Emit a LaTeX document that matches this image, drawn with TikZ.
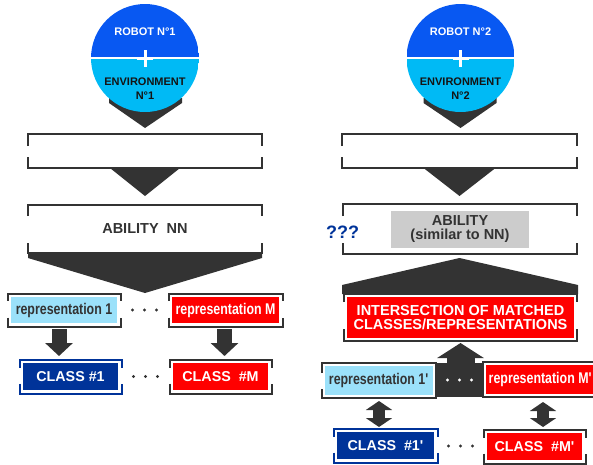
\documentclass[tikz,border=0pt]{standalone}
\usepackage{fontspec}
\setmainfont{Liberation Sans}
\newfontfamily\condfont[FakeStretch=0.80]{Liberation Sans}
\usetikzlibrary{calc,arrows.meta}

\definecolor{ink}{RGB}{51,51,51}
\definecolor{robotblue}{RGB}{8,88,242}
\definecolor{envcyan}{RGB}{0,186,245}
\definecolor{lightblue}{RGB}{155,225,250}
\definecolor{navy}{RGB}{0,51,153}
\definecolor{abgray}{RGB}{204,204,204}
\definecolor{hotred}{RGB}{255,0,0}
\definecolor{envtext}{RGB}{20,20,20}

\tikzset{
  box/.style={inner sep=0pt, outer sep=0pt, align=center,
    font=\bfseries\fontsize{14.5}{14}\selectfont},
  repbox/.style={box, minimum height=26pt,
    font=\condfont\bfseries\fontsize{15.5}{15}\selectfont},
  repboxp/.style={repbox, minimum height=29pt},
  clsbox/.style={box, minimum height=27pt, text=white,
    font=\bfseries\fontsize{14.3}{14}\selectfont},
  bracketline/.style={line width=2pt, line cap=butt, line join=miter},
  blockarrow/.style={draw=ink, line width=15pt,
    -{Triangle[width=27pt,length=13pt]}},
  dblarrow/.style={draw=ink, line width=12pt,
    {Triangle[width=26pt,length=9pt]}-{Triangle[width=26pt,length=9pt]}},
  disc/.style={circle, minimum size=108pt, inner sep=0pt, path picture={
    \fill[robotblue] (path picture bounding box.north west) rectangle (path picture bounding box.east);
    \fill[envcyan] (path picture bounding box.west) rectangle (path picture bounding box.south east);
    \draw[white, line width=1.2pt] (path picture bounding box.west) -- (path picture bounding box.east);
    \draw[white, line width=3pt] ($(path picture bounding box.center)+(-8pt,0pt)$) -- ++(16pt,0pt);
    \draw[white, line width=3pt] ($(path picture bounding box.center)+(0pt,8pt)$) -- ++(0pt,-17pt);
  }},
  disctext/.style={inner sep=0pt, align=center,
    font=\bfseries\fontsize{11}{14}\selectfont},
  pointer/.style={fill=ink},
}

% open-sided frame: a top and a bottom bracket around a node
% #1 node, #2 gap to the node, #3 top leg, #4 bottom leg, #5 colour
\newcommand\bracketize[5]{%
  \draw[bracketline,#5]
    ([shift={(-#2,#2-#3)}]#1.north west) -- ([shift={(-#2,#2)}]#1.north west)
    -- ([shift={(#2,#2)}]#1.north east) -- ([shift={(#2,#2-#3)}]#1.north east);
  \draw[bracketline,#5]
    ([shift={(-#2,-#2+#4)}]#1.south west) -- ([shift={(-#2,-#2)}]#1.south west)
    -- ([shift={(#2,-#2)}]#1.south east) -- ([shift={(#2,-#2+#4)}]#1.south east);
}
% three dots centred on a coordinate
\newcommand\threedots[2]{%
  \foreach \dx in {-12,0,12} \fill[#2] ($(#1)+(\dx,0)$) circle (1.6);
}

\begin{document}
\begin{tikzpicture}[x=1pt,y=1pt]
\useasboundingbox (0,0) rectangle (593,-464);
\clip (0,0) rectangle (593,-464);

% ================= left pipeline =================
\node[box, minimum width=234pt, minimum height=34pt] (L1) at (145,-151) {};
\node[box, minimum width=234pt, minimum height=48pt, text=ink] (L2) at (145,-229)
  {\raisebox{-2pt}{ABILITY\ \ NN}};
\node[repbox, minimum width=106pt, fill=lightblue, text=ink] (rep1) at (64,-310) {representation 1};
\node[repbox, minimum width=107pt, fill=hotred, text=white] (repM) at (225.5,-310) {representation M};
\node[clsbox, minimum width=95pt, fill=navy] (cls1) at (70.5,-376.5) {CLASS \#1};
\node[clsbox, minimum width=95pt, fill=hotred] (clsM) at (220.5,-376.5) {CLASS\ \ \#M};

\coordinate (robot1) at (145,-58);

\bracketize{L1}{0}{12}{11}{ink}
\bracketize{L2}{0}{11}{10}{ink}
\bracketize{rep1}{3.5}{7}{9}{ink}
\bracketize{repM}{3.5}{7}{9}{ink}
\bracketize{cls1}{3.5}{8}{10}{navy}
\bracketize{clsM}{3.5}{8}{10}{ink}

% pointer under the disc, then the disc on top of it
\fill[pointer] ($(robot1)+(-36,-40)$) -- ($(robot1)+(37,-40)$)
  -- ($(robot1)+(37,-45)$) -- ($(robot1)+(0,-70)$)
  -- ($(robot1)+(-36,-45)$) -- cycle;
\node[disc] (disc1) at (robot1) {};
\node[disctext, text=white] (rob1) at ($(robot1)+(0,26)$) {ROBOT N°1};
\node[disctext, text=envtext] (env1) at ($(robot1)+(0,-31)$) {ENVIRONMENT\\N°1};

% flow between the stages
\fill[ink] ($(L1.south)+(-35,0)$) -- ($(L1.south)+(35,0)$) -- ($(L2.north)+(0,9)$) -- cycle;
\fill[ink] ($(L2.south west)+(0,1)$) -- ($(L2.south east)+(0,1)$) -- ($(L2.south east)+(0,-5)$)
  -- ($(L2.south)+(0,-40)$) -- ($(L2.south west)+(0,-5)$) -- cycle;

\draw[blockarrow] ($(rep1.south)+(-5,-6)$) -- ($(rep1.south |- cls1.north)+(-5,7)$);
\draw[blockarrow] ($(repM.south)+(-1,-6)$) -- ($(repM.south |- clsM.north)+(-1,7)$);

\coordinate (dl1) at ($(rep1.east)!0.5!(repM.west)$);
\coordinate (dl2) at ($(cls1.east)!0.5!(clsM.west)$);
\threedots{dl1}{ink}
\threedots{dl2}{ink}

% ================= right pipeline =================
\node[box, minimum width=235pt, minimum height=34pt] (R1) at (459.5,-151) {};
\node[box, minimum width=234pt, minimum height=50pt] (R2) at (459.5,-229) {};
\node[box, minimum width=138pt, minimum height=37pt, fill=abgray, text=ink] (abil)
  at ($(R2.center)+(0.5,-0.5)$) {ABILITY\\(similar to NN)};
\node[text=navy, inner sep=0pt, font=\bfseries\fontsize{18}{18}\selectfont] (qq)
  at ($(R2.west)+(0,-3)$) {???};
\node[box, minimum width=227pt, minimum height=41pt, fill=hotred, text=white,
  font=\bfseries\fontsize{14.5}{14}\selectfont] (inter) at (460.5,-317.5)
  {INTERSECTION OF MATCHED\\CLASSES/REPRESENTATIONS};
\node[repboxp, minimum width=108pt, fill=lightblue, text=ink] (rep1p) at (379,-380.5)
  {representation 1\textquotesingle};
\node[repboxp, minimum width=109pt, fill=hotred, text=white] (repMp) at (540.5,-379.5)
  {representation M\textquotesingle};
\node[clsbox, minimum width=97pt, fill=navy] (cls1p) at (385.5,-445.5) {CLASS\ \ \#1\textquotesingle};
\node[clsbox, minimum width=95pt, fill=hotred] (clsMp) at (534.5,-446.5) {CLASS\ \ \#M\textquotesingle};

\coordinate (robot2) at (460.5,-58);

\bracketize{R1}{0}{12}{11}{ink}
\bracketize{R2}{0}{12}{11}{ink}
\bracketize{inter}{3}{8}{12}{ink}
\bracketize{rep1p}{3}{10}{9}{ink}
\bracketize{repMp}{3}{10}{9}{ink}
\bracketize{cls1p}{3.5}{8}{10}{navy}
\bracketize{clsMp}{3.5}{8}{10}{ink}

\fill[pointer] ($(robot2)+(-37,-40)$) -- ($(robot2)+(36,-40)$)
  -- ($(robot2)+(36,-45)$) -- ($(robot2)+(0,-70)$)
  -- ($(robot2)+(-37,-45)$) -- cycle;
\node[disc] (disc2) at (robot2) {};
\node[disctext, text=white] (rob2) at ($(robot2)+(0,26)$) {ROBOT N°2};
\node[disctext, text=envtext] (env2) at ($(robot2)+(0,-31)$) {ENVIRONMENT\\N°2};

\fill[ink] ($(R1.south)+(-36,0)$) -- ($(R1.south)+(36,0)$) -- ($(R2.north)+(0,8)$) -- cycle;
% upward funnel into the intersection box
\fill[ink] ($(inter.north west)+(-5,3)$) -- ($(inter.north west)+(-5,12)$)
  -- ($(R2.south)+(0,-4)$) -- ($(inter.north east)+(4,12)$)
  -- ($(inter.north east)+(4,3)$) -- cycle;

% block joining the representation row to the intersection box
\fill[ink] ($(rep1p.north east)+(2,3)$) rectangle ($(repMp.south west)+(-2,-3)$);
\draw[ink, line width=28pt, -{Triangle[width=46pt,length=15pt]}]
  ($(inter.south)+(0,-28)$) -- ($(inter.south)+(0,-5)$);

\draw[dblarrow] ($(rep1p.south)+(0,-6)$) -- ($(rep1p.south |- cls1p.north)+(0,5)$);
\draw[dblarrow] ($(repMp.south)+(2.5,-8)$) -- ($(repMp.south |- clsMp.north)+(2.5,6)$);

\coordinate (dr1) at ($(rep1p.east)!0.5!(repMp.west)$);
\coordinate (dr2) at ($(cls1p.east)!0.5!(clsMp.west)$);
\threedots{dr1}{white}
\threedots{dr2}{ink}
\end{tikzpicture}
\end{document}
